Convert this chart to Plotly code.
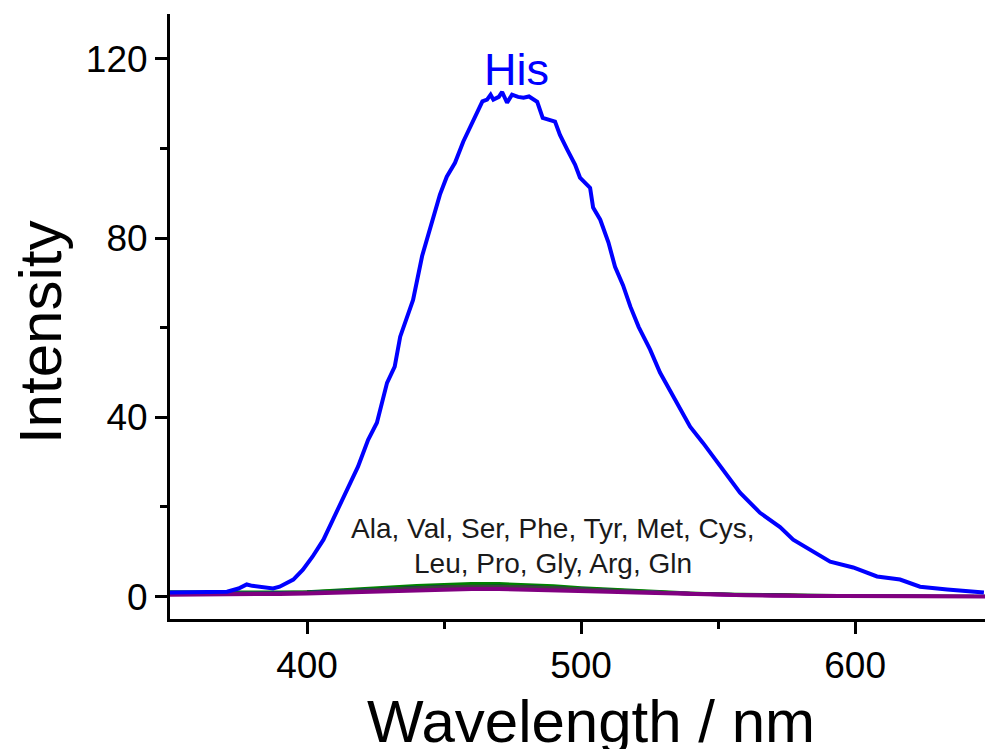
import plotly.graph_objects as go

# ---- His emission spectrum ----
his_wl = [350, 360, 370.8, 375, 378, 380, 383, 387.6, 390, 395, 398.5, 402, 406, 409.5,
          412, 414.6, 418.6, 422.3, 425.5, 429.2, 432, 434, 436.9, 438.7, 442, 445.5,
          448.5, 451, 454, 457, 459.5, 462, 464, 465.7, 467, 468, 470, 471.2, 473, 474.8,
          477, 479, 481, 484, 486, 490.5, 492.3, 495, 497.8, 499.6, 503.3, 504.4, 507,
          510, 512.4, 515.3, 518, 521, 525.2, 528.8, 533.6, 539.8, 544.5, 551.8, 558,
          565.3, 572.6, 577.4, 583.6, 590.9, 599.3, 608, 616.4, 623.7, 633.6, 642, 647]
his_int = [0.9, 0.9, 1.1, 1.8, 2.7, 2.4, 2.2, 1.8, 2.2, 3.8, 6.0, 8.9, 12.7, 17.2,
           20.5, 23.9, 29.0, 35.0, 38.8, 47.7, 51.3, 58.0, 63.3, 66.2, 76.0, 83.0,
           89.7, 93.7, 96.8, 101.5, 104.8, 108.2, 110.5, 110.9, 112.0, 110.9, 111.5, 112.6, 110.2, 112.0,
           111.5, 111.3, 111.6, 110.4, 106.8, 106.0, 103.0, 99.7, 96.4, 93.5, 91.2, 86.8, 84.1,
           79.0, 73.6, 69.5, 64.7, 60.2, 55.1, 50.0, 44.6, 37.9, 34.3, 28.3, 23.2,
           18.7, 15.5, 12.7, 10.5, 7.8, 6.5, 4.5, 3.8, 2.2, 1.6, 1.1, 0.9]

# ---- other amino acids (weak emission) ----
base_wl = [350, 360, 370, 380, 390, 400, 410, 420, 430, 440, 450, 460, 470, 480, 490, 500,
           510, 520, 530, 540, 550, 560, 570, 580, 590, 600, 610, 620, 630, 640, 650]
ala = [0.8,0.8,0.8,0.8,0.9,1.0,1.2,1.5,1.8,2.1,2.3,2.4,2.4,2.3,2.1,1.8,1.5,1.2,0.9,0.7,0.5,0.4,0.3,0.2,0.2,0.1,0.1,0.1,0.0,0.0,0.0]
val = [0.6,0.6,0.7,0.7,0.8,0.9,1.1,1.3,1.6,1.8,2.0,2.1,2.1,2.0,1.8,1.6,1.3,1.0,0.8,0.6,0.5,0.4,0.3,0.2,0.2,0.1,0.1,0.1,0.1,0.0,0.0]
ser = [1.1,1.0,1.0,1.0,1.0,1.1,1.4,1.8,2.2,2.5,2.7,2.9,2.9,2.7,2.4,2.0,1.7,1.3,1.0,0.8,0.6,0.5,0.4,0.3,0.3,0.2,0.2,0.1,0.1,0.1,0.1]
phe = [0.7,0.7,0.7,0.8,0.8,0.9,1.2,1.5,1.8,2.0,2.2,2.3,2.3,2.2,2.0,1.7,1.4,1.1,0.9,0.7,0.5,0.4,0.3,0.3,0.2,0.2,0.1,0.1,0.1,0.0,0.0]
tyr = [0.5,0.5,0.6,0.6,0.7,0.8,1.0,1.2,1.5,1.7,1.9,2.0,2.0,1.9,1.7,1.5,1.2,1.0,0.8,0.6,0.5,0.4,0.3,0.2,0.2,0.1,0.1,0.1,0.0,0.0,0.0]
met = [0.6,0.6,0.6,0.7,0.7,0.8,1.0,1.3,1.6,1.9,2.1,2.2,2.2,2.1,1.9,1.6,1.3,1.0,0.8,0.6,0.5,0.4,0.3,0.2,0.1,0.1,0.1,0.0,0.0,0.0,0.0]
cys = [0.7,0.7,0.7,0.7,0.8,0.9,1.1,1.4,1.7,1.9,2.1,2.2,2.2,2.1,1.9,1.7,1.4,1.1,0.8,0.6,0.5,0.4,0.3,0.2,0.2,0.1,0.1,0.1,0.0,0.0,0.0]
leu = [0.6,0.6,0.6,0.7,0.8,0.9,1.1,1.3,1.6,1.8,2.0,2.1,2.1,2.0,1.8,1.5,1.2,1.0,0.8,0.6,0.4,0.3,0.3,0.2,0.1,0.1,0.1,0.0,0.0,0.0,0.0]
pro = [0.5,0.5,0.6,0.6,0.7,0.8,1.0,1.2,1.4,1.7,1.8,1.9,1.9,1.8,1.6,1.4,1.2,0.9,0.7,0.6,0.4,0.3,0.2,0.2,0.1,0.1,0.1,0.0,0.0,0.0,0.0]
gly = [0.6,0.6,0.6,0.7,0.7,0.8,1.0,1.2,1.5,1.7,1.9,2.0,2.0,1.9,1.7,1.4,1.2,0.9,0.7,0.5,0.4,0.3,0.2,0.2,0.1,0.1,0.1,0.1,0.0,0.0,0.0]
arg = [0.7,0.7,0.7,0.8,0.8,0.9,1.1,1.4,1.7,2.0,2.2,2.3,2.3,2.2,2.0,1.7,1.4,1.1,0.9,0.7,0.5,0.4,0.3,0.2,0.2,0.1,0.1,0.1,0.1,0.0,0.0]
gln = [0.4,0.4,0.5,0.5,0.6,0.7,0.9,1.1,1.3,1.5,1.6,1.7,1.7,1.6,1.5,1.3,1.1,0.9,0.7,0.5,0.4,0.3,0.2,0.2,0.1,0.1,0.1,0.0,0.0,0.0,0.0]

others = [("Ala", ala, "#000000"), ("Val", val, "#FF0000"), ("Ser", ser, "#008000"),
          ("Phe", phe, "#000080"), ("Tyr", tyr, "#FF00FF"), ("Met", met, "#800000"),
          ("Cys", cys, "#008080"), ("Leu", leu, "#0000A0"), ("Pro", pro, "#8000FF"),
          ("Gly", gly, "#C000C0"), ("Arg", arg, "#404040"), ("Gln", gln, "#800080")]

x_ticks = [400, 500, 600]
y_ticks = [0, 40, 80, 120]

fig = go.Figure()
for name, vals, col in others:
    fig.add_trace(go.Scatter(x=base_wl, y=vals, mode="lines", name=name,
                             line=dict(color=col, width=4 if name == "Gln" else 3)))
fig.add_trace(go.Scatter(x=his_wl, y=his_int, mode="lines", name="His",
                         line=dict(color="#0000FF", width=4)))

FONT = "Liberation Sans, Arial, sans-serif"
axis_common = dict(showline=True, linecolor="black", linewidth=3, ticks="outside",
                   tickwidth=3, ticklen=12, tickcolor="black", showgrid=False,
                   zeroline=False, mirror=False,
                   tickfont=dict(family=FONT, size=37, color="black"))

fig.update_xaxes(range=[350, 647.4], tickvals=x_ticks, ticktext=[str(v) for v in x_ticks],
                 minor=dict(tickvals=[450, 550], ticklen=7, tickwidth=3, tickcolor="black",
                            ticks="outside"),
                 **axis_common)
fig.update_yaxes(range=[-5, 130], tickvals=y_ticks, ticktext=[str(v) for v in y_ticks],
                 minor=dict(tickvals=[20, 60, 100], ticklen=7, tickwidth=3, tickcolor="black",
                            ticks="outside"),
                 **axis_common)

fig.add_annotation(text="Wavelength / nm", xref="paper", yref="paper", x=0.5166, y=-0.169,
                   xanchor="center", yanchor="middle", showarrow=False,
                   font=dict(family=FONT, size=60, color="black"))
fig.add_annotation(text="Intensity", xref="paper", yref="paper", x=-0.158, y=0.473,
                   xanchor="center", yanchor="middle", textangle=-90, showarrow=False,
                   font=dict(family=FONT, size=60, color="black"))
fig.add_annotation(text="His", x=476.3, y=117.7, xanchor="center", yanchor="middle",
                   showarrow=False, font=dict(family=FONT, size=45, color="#0000FF"))
fig.add_annotation(text="Ala, Val, Ser, Phe, Tyr, Met, Cys,", x=489.8, y=15.1,
                   xanchor="center", yanchor="middle", showarrow=False,
                   font=dict(family=FONT, size=28, color="#1a1a1a"))
fig.add_annotation(text="Leu, Pro, Gly, Arg, Gln", x=489.8, y=7.3,
                   xanchor="center", yanchor="middle", showarrow=False,
                   font=dict(family=FONT, size=28, color="#1a1a1a"))

fig.update_layout(width=985, height=749, margin=dict(l=170, r=0, t=14, b=130, autoexpand=False),
                  paper_bgcolor="white", plot_bgcolor="white", showlegend=False)

fig.write_html("out.html")
